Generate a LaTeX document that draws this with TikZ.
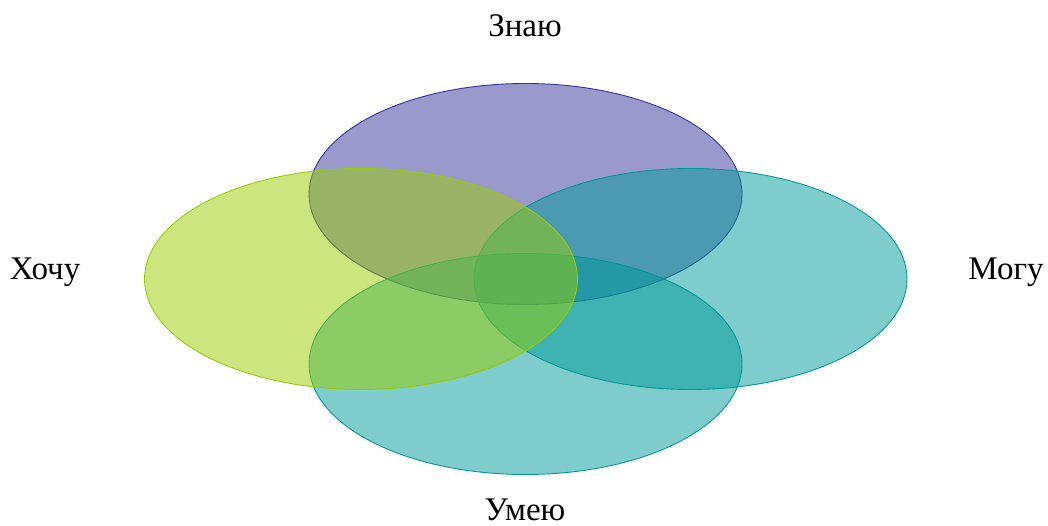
\documentclass[tikz,border=0pt]{standalone}
\usepackage{fontspec}
\setmainfont{Liberation Serif}
\usepackage{xcolor}
\usepackage{tikz}
\usetikzlibrary{positioning, shapes.geometric}
\definecolor{vnPurple}{RGB}{51, 51, 153}
\definecolor{vnLime}{RGB}{153, 204, 0}
\definecolor{vnTeal}{RGB}{0, 153, 153}
\tikzset{
    circleset/.style={
        ellipse,
        minimum width=433pt,
        minimum height=221pt,
        inner sep=0pt,
        line width=0.9pt,
        fill opacity=0.5,
        draw opacity=1
    },
    caption/.style={
        font=\fontsize{33}{39}\selectfont,
        anchor=base,
        inner sep=0pt
    }
}

\begin{document}
\begin{tikzpicture}[x=1pt, y=1pt]
  \useasboundingbox (0,0) rectangle (1048,526);

  % The four sets
  \node[circleset, draw=vnPurple, fill=vnPurple] (znayu) at (525.5, 332) {};
  \node[circleset, draw=vnTeal, fill=vnTeal] (mogu) at (690.5, 247) {};
  \node[circleset, draw=vnTeal, fill=vnTeal] (umeyu) at (525.5, 162) {};
  \node[circleset, draw=vnLime, fill=vnLime] (khochu) at (361, 247) {};

  % Labels
  \node[caption] (tZnayu) at (525, 489) {Знаю};
  \node[caption] (tKhochu) at (45, 246) {Хочу};
  \node[caption] (tMogu) at (1006, 246) {Могу};
  \node[caption] (tUmeyu) at (525, 5) {Умею};
\end{tikzpicture}
\end{document}
